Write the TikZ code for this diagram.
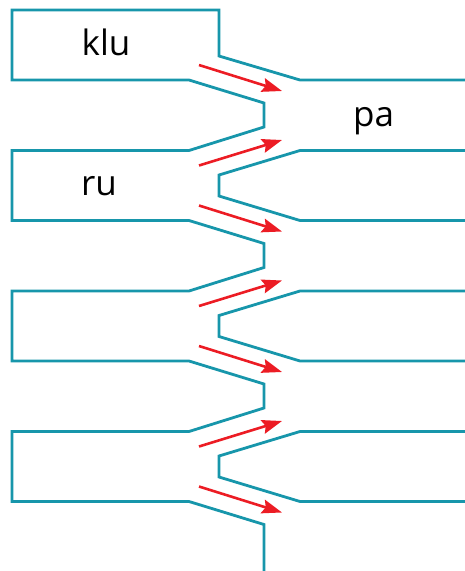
\documentclass[tikz,border=0pt]{standalone}
\usepackage{fontspec}
\setmainfont{Open Sans}
\usepackage{tikz}
\usetikzlibrary{arrows.meta}
\usepackage{xcolor}
\definecolor{pipeteal}{HTML}{1796AB}
\definecolor{flowred}{HTML}{EC1C24}

\begin{document}
\begin{tikzpicture}[x=1pt, y=-1pt,
        wall/.style={draw=pipeteal, line width=2.8pt, line join=miter},
        flow/.style={draw=flowred, line width=2.6pt, -{Stealth[length=20pt, width=14pt, inset=3pt]}},
        word/.style={font=\fontsize{35}{40}\selectfont, anchor=base, inner sep=0pt}]
        \useasboundingbox (0,0) rectangle (465,571);
        \def\per{140.5}
        % left channel wall, one box after another
        \draw[wall] (465,80) -- (300,80) -- (219,56) -- (219,10) -- (12,10) -- (12,80) -- (189,80) -- (264,103) -- (264,127)
                -- (189,150.5) -- (12,150.5) -- (12,220.5) -- (189,220.5) -- (264,243.5) -- (264,267.5)
                -- (189,291) -- (12,291) -- (12,361) -- (189,361) -- (264,384) -- (264,408)
                -- (189,431.5) -- (12,431.5) -- (12,501.5) -- (189,501.5) -- (264,524.5) -- (264,571);
        % right channel walls
        \foreach \k in {0,1,2}
                \draw[wall, shift={(0,\k*\per)}] (465,150.5) -- (300,150.5) -- (219,175) -- (219,196) -- (300,220.5) -- (465,220.5);
        % flow arrows
        \foreach \k in {0,...,3} {
                \coordinate (down\k a) at (199,65+\k*\per);
                \coordinate (down\k b) at (282,91+\k*\per);
                \draw[flow] (down\k a) -- (down\k b);
        }
        \foreach \k in {0,1,2} {
                \coordinate (up\k a) at (199,165.5+\k*\per);
                \coordinate (up\k b) at (282,140+\k*\per);
                \draw[flow] (up\k a) -- (up\k b);
        }
        \node[word] (klu) at (106,55.7) {klu};
        \node[word] (ru) at (99,195) {ru};
        \node[word] (pa) at (373.5,126) {pa};
\end{tikzpicture}
\end{document}
